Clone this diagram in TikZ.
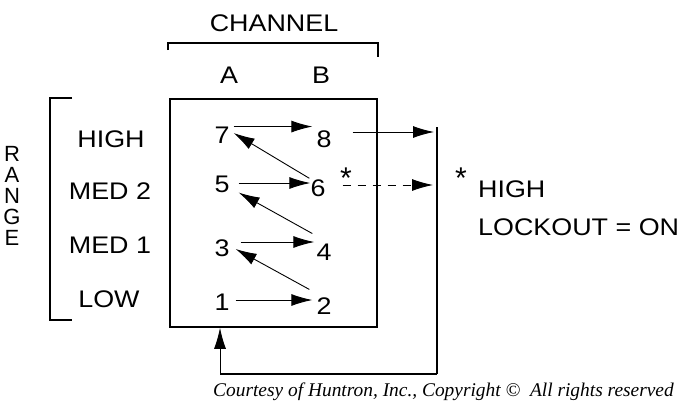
\documentclass[tikz,border=0pt]{standalone}
\usepackage{fontspec}
\setmainfont{Liberation Sans}
\newfontfamily\capfont{Liberation Serif}
\usetikzlibrary{arrows.meta,calc}
\newcommand{\widetext}[1]{\scalebox{1.12}[1]{#1}}

\begin{document}
\begin{tikzpicture}[x=1pt, y=-1pt,
  every node/.style={inner sep=0pt, font=\fontsize{24}{26}\selectfont},
  flow/.style={-{Latex[length=21pt,width=12pt]}, line width=0.9pt},
  bus/.style={line width=2.6pt},
  starmark/.style={font=\fontsize{30}{30}\selectfont}]
  \useasboundingbox (0,0) rectangle (691,405);
  % channel heading and its bracket
  \node (ch) at (274,23) {\widetext{CHANNEL}};
  \draw[line width=1.2pt] (168,50) -- (168,43) -- (378,43);
  \draw[bus] (378,42) -- (378,57);
  \node (chA) at (229,75) {\widetext{A}};
  \node (chB) at (321,75) {\widetext{B}};
  % the range box
  \node[draw, line width=1.6pt, minimum width=207pt, minimum height=228pt] (box) at (273.5,213) {};
  % range side
  \node[align=center, font=\fontsize{22}{21}\selectfont] (rng) at (12,196) {R\\A\\N\\G\\E};
  \draw[line width=1.2pt] (72,98) -- (50,98) -- (50,320) -- (72,320);
  \node (rHigh) at (111,139) {\widetext{HIGH}};
  \node (rMedB) at (110,191) {\widetext{MED 2}};
  \node (rMedA) at (110,245) {\widetext{MED 1}};
  \node (rLow)  at (109,299) {\widetext{LOW}};
  % switch positions
  \node (n7) at (222,135) {\widetext{7}};
  \node (n8) at (324,139) {\widetext{8}};
  \node (n5) at (222,184) {\widetext{5}};
  \node (n6) at (318,188) {\widetext{6}};
  \node (n3) at (222,248) {\widetext{3}};
  \node (n4) at (324,252) {\widetext{4}};
  \node (n1) at (222,302) {\widetext{1}};
  \node (n2) at (324,306) {\widetext{2}};
  % stepping order A -> B -> A ...
  \draw[flow] ($(n1.east)+(6,-2)$) -- ($(n1.east -| n2.west)+(-4,-2)$);
  \draw[flow] ($(n2.north west)+(-7,-8)$) -- ($(n3.east)+(6,1)$);
  \draw[flow] ($(n3.east)+(11,-6)$) -- ($(n3.east -| n4.west)+(-2,-6)$);
  \draw[flow] ($(n4.north west)+(-4,-10)$) -- ($(n5.south east)+(9,0)$);
  \draw[flow] ($(n5.east)+(9,-1)$) -- ($(n5.east -| n6.west)+(0,-1)$);
  \draw[flow] ($(n6.north west)+(-1,-1)$) -- ($(n7.east)+(4,-2)$);
  \draw[flow] ($(n7.north east)+(4,0)$) -- ($(n7.north east -| n8.west)+(-4,0)$);
  % wrap-around back to position 1
  \coordinate (rt) at (437,127);
  \coordinate (rb) at (437,374);
  \coordinate (lb) at (220,374);
  \draw[bus] (rt) -- (rb);
  \draw[line width=1.6pt] (rb) -- (lb);
  \draw[flow] ($(n8.east)+(21,-7)$) -- ($(n8.east -| rt)+(-3,-7)$);
  \draw[flow] (lb) -- (lb |- box.south);
  % high lockout jump
  \node[starmark] (st6) at (346,178) {*};
  \draw[flow, dash pattern=on 8pt off 7pt] ($(n6.east)+(17,-3)$) -- ($(n6.east -| rt)+(-4,-3)$);
  \node[starmark] (stL) at (461,178) {*};
  \node[anchor=west] (lgA) at (478,189) {\widetext{HIGH}};
  \node[anchor=west] (lgB) at (478,227) {\widetext{LOCKOUT = ON}};
  % credit line
  \node[anchor=base west, font=\capfont\itshape\fontsize{19.4}{20}\selectfont] (cred) at (213,396)
    {Courtesy of Huntron, Inc., Copyright \textcopyright\ \ All rights reserved};
\end{tikzpicture}
\end{document}
